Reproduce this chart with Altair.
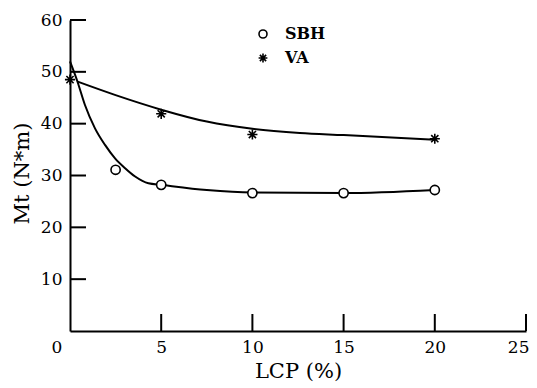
import altair as alt
import pandas as pd

# measured points
sbh_x = [2.5, 5, 10, 15, 20]
sbh_y = [31.1, 28.2, 26.6, 26.6, 27.2]
va_x = [0, 5, 10, 20]
va_y = [48.5, 41.9, 37.9, 37.1]

# fitted curves
sbh_curve_x = [0, 0.42, 0.82, 1.37, 1.92, 2.47, 3.02, 3.57, 4.3, 5, 7.5, 10, 15, 20]
sbh_curve_y = [52.0, 48.0, 43.6, 39.1, 35.9, 33.3, 31.4, 29.8, 28.5, 28.2, 27.2, 26.7, 26.6, 27.2]
va_curve_x = [0.42, 2.5, 5, 7.5, 10, 12.6, 15, 20]
va_curve_y = [48.1, 45.5, 42.7, 40.4, 39.0, 38.2, 37.8, 36.9]

series_names = ["SBH", "VA"]
x_ticks = [5, 10, 15, 20, 25]
y_ticks = [10, 20, 30, 40, 50, 60]

W, H = 456, 311
FONT = "DejaVu Serif"
STAR = "M0,-1.1L0,1.1M-1.1,0L1.1,0M-0.78,-0.78L0.78,0.78M-0.78,0.78L0.78,-0.78"
SHAPES = ["circle", STAR]

pts = pd.DataFrame(
    {"x": sbh_x + va_x, "y": sbh_y + va_y,
     "series": ["SBH"] * len(sbh_x) + ["VA"] * len(va_x)}
)
curves = pd.DataFrame(
    {"x": sbh_curve_x + va_curve_x, "y": sbh_curve_y + va_curve_y,
     "series": ["SBH"] * len(sbh_curve_x) + ["VA"] * len(va_curve_x)}
)
xt = pd.DataFrame({"x": x_ticks})
yt = pd.DataFrame({"y": y_ticks})
origin = pd.DataFrame({"x": [0], "y": [0], "t": ["0"]})

xs = alt.Scale(domain=[0, 25], nice=False, zero=False)
ys = alt.Scale(domain=[0, 60], nice=False, zero=False)
x_axis = alt.Axis(values=x_ticks, ticks=False, grid=False, title="LCP (%)",
                  labelPadding=8, titlePadding=5, format="d",
                  labelAlign={"expr": "datum.value == 25 ? 'right' : 'center'"},
                  labelOffset={"expr": "datum.value == 25 ? 3 : 0"},
                  labelBound=False, labelOverlap=False)
y_axis = alt.Axis(values=y_ticks, ticks=False, grid=False, title="Mt (N*m)",
                  labelPadding=8, titleX=-48, titleY=153, titleBaseline="middle",
                  titleAlign="center", format="d")

def X(f="x"):
    return alt.X(f"{f}:Q", scale=xs, axis=x_axis)

def Y(f="y"):
    return alt.Y(f"{f}:Q", scale=ys, axis=y_axis)

shape_scale = alt.Scale(domain=series_names, range=SHAPES)

lines = alt.Chart(curves).mark_line(color="black", strokeWidth=2, interpolate="monotone").encode(
    x=X(), y=Y(), detail="series:N"
)

points = alt.Chart(pts).mark_point(filled=True, fill="white", stroke="black",
                                   strokeWidth=1.6, opacity=1, size=85).encode(
    x=X(), y=Y(),
    shape=alt.Shape("series:N", scale=shape_scale, legend=None),
)

xtick_rules = alt.Chart(xt).mark_rule(color="black", strokeWidth=2).encode(
    x=X(), y=alt.value(H), y2=alt.value(H - 17)
)
ytick_rules = alt.Chart(yt).mark_rule(color="black", strokeWidth=2).encode(
    y=Y(), x=alt.value(0), x2=alt.value(16)
)
zero_label = alt.Chart(origin).mark_text(font=FONT, fontSize=17, dx=-13, dy=17, color="black").encode(
    x=X(), y=Y(), text="t:N"
)

# hand-placed key (legend) in the upper middle of the plot
legend_layers = []
for i, name in enumerate(series_names):
    ly = 14 + 24 * i
    legend_layers.append(
        alt.Chart(pd.DataFrame({"series": [name]})).mark_point(
            filled=True, fill="white", stroke="black", strokeWidth=1.6, opacity=1, size=64
        ).encode(x=alt.value(193), y=alt.value(ly),
                 shape=alt.Shape("series:N", scale=shape_scale, legend=None))
    )
    legend_layers.append(
        alt.Chart(pd.DataFrame({"series": [name]})).mark_text(
            font=FONT, fontSize=16, fontWeight="bold", align="left", baseline="middle", color="black"
        ).encode(x=alt.value(215), y=alt.value(ly), text="series:N")
    )

chart = alt.layer(lines, points, xtick_rules, ytick_rules, zero_label, *legend_layers).properties(
    width=W, height=H,
    padding={"left": 62, "top": 12, "right": 3, "bottom": 56},
    autosize=alt.AutoSizeParams(type="none"),
    background="white",
).configure_view(stroke=None).configure_axis(
    domainColor="black", domainWidth=2,
    labelFont=FONT, labelFontSize=17, labelColor="black",
    titleFont=FONT, titleFontSize=21, titleFontWeight="normal", titleColor="black",
)

chart.save("out.html", embed_options={"renderer": "svg", "actions": False})
